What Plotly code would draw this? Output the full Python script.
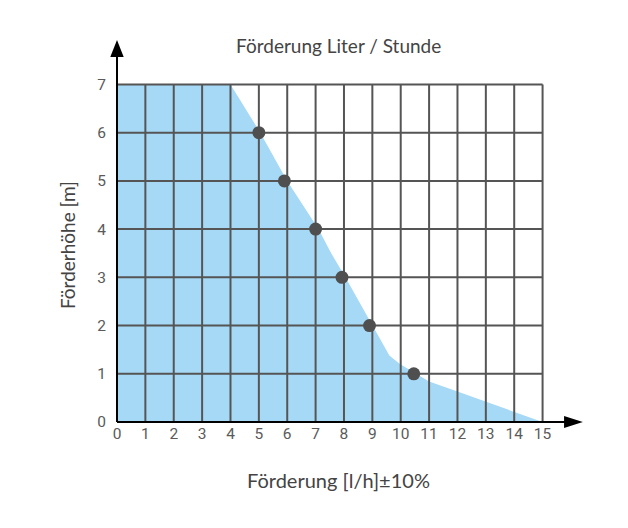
import plotly.graph_objects as go

# Area (performance envelope) boundary
area_x = [0, 4, 5.05, 6.0, 7.1, 7.55, 8.05, 9.0, 9.6, 9.96, 10.5, 11.0, 12.0, 15]
area_y = [7, 7, 6.0, 5.0, 4.0, 3.5, 3.0, 2.0, 1.38, 1.21, 1.01, 0.84, 0.63, 0]

# Measured points
pts_x = [5.0, 5.9, 7.0, 7.93, 8.9, 10.46]
pts_y = [6.0, 5.0, 4.0, 3.0, 2.0, 1.0]

x_ticks = list(range(0, 16))
y_ticks = list(range(0, 8))

title_text = "Förderung Liter / Stunde"
x_title = "Förderung [l/h]±10%"
y_title = "Förderhöhe [m]"

fill_color = "#a6d9f5"
grid_color = "#555555"
dot_color = "#4f4f4f"
text_color = "#5a5a5a"

# grid lines built from the tick positions
gx, gy = [], []
for xv in x_ticks[1:]:
    gx += [xv, xv, None]
    gy += [y_ticks[0], y_ticks[-1], None]
for yv in y_ticks[1:]:
    gx += [x_ticks[0], x_ticks[-1], None]
    gy += [yv, yv, None]

fig = go.Figure()
fig.add_trace(go.Scatter(
    x=area_x + [area_x[-1], area_x[0]], y=area_y + [0, 0],
    mode="lines", fill="toself", fillcolor=fill_color,
    line=dict(width=0, color=fill_color), hoverinfo="skip", showlegend=False))
fig.add_trace(go.Scatter(
    x=gx, y=gy, mode="lines", line=dict(color=grid_color, width=2),
    hoverinfo="skip", showlegend=False))
fig.add_trace(go.Scatter(
    x=pts_x, y=pts_y, mode="markers",
    marker=dict(size=13, color=dot_color), showlegend=False, cliponaxis=False))

tick_font = dict(family="Roboto", size=15.5, color=text_color)
fig.update_xaxes(range=[0, 15.05], tickvals=x_ticks, ticktext=[str(v) for v in x_ticks],
                 showgrid=False, zeroline=False, showline=False, ticks="",
                 tickfont=tick_font, ticklabelstandoff=0, fixedrange=True)
fig.update_yaxes(range=[0, 7.03], tickvals=y_ticks, ticktext=[str(v) for v in y_ticks],
                 showgrid=False, zeroline=False, showline=False, ticks="",
                 tickfont=tick_font, ticklabelstandoff=10, fixedrange=True)

# axis lines with arrow heads (decoration)
shapes = [
    dict(type="line", xref="paper", yref="paper", x0=0, y0=0, x1=1.05, y1=0,
         line=dict(color="black", width=2)),
    dict(type="line", xref="paper", yref="paper", x0=0, y0=0, x1=0, y1=1.08,
         line=dict(color="black", width=2)),
    dict(type="path", xref="paper", yref="paper",
         path="M 1.091 0 L 1.047 0.0177 L 1.047 -0.0177 Z",
         fillcolor="black", line=dict(width=0)),
    dict(type="path", xref="paper", yref="paper",
         path="M 0 1.127 L -0.0157 1.077 L 0.0157 1.077 Z",
         fillcolor="black", line=dict(width=0)),
]

annotations = [
    dict(text=title_text, xref="paper", yref="paper", x=0.518, y=1.112,
         xanchor="center", yanchor="middle",
         showarrow=False, font=dict(family="Lato", size=19, color="#444444")),
    dict(text=x_title, xref="paper", yref="paper", x=0.518, y=-0.171,
         xanchor="center", yanchor="middle",
         showarrow=False, font=dict(family="Lato", size=20, color="#444444")),
    dict(text=y_title, xref="paper", yref="paper", x=-0.117, y=0.522,
         xanchor="center", yanchor="middle",
         showarrow=False, textangle=-90, font=dict(family="Lato", size=19, color="#444444")),
]

fig.update_layout(
    width=628, height=528,
    margin=dict(l=109, r=92, t=75, b=114),
    paper_bgcolor="white", plot_bgcolor="white",
    shapes=shapes, annotations=annotations, showlegend=False,
)

fig.write_html("out.html")
